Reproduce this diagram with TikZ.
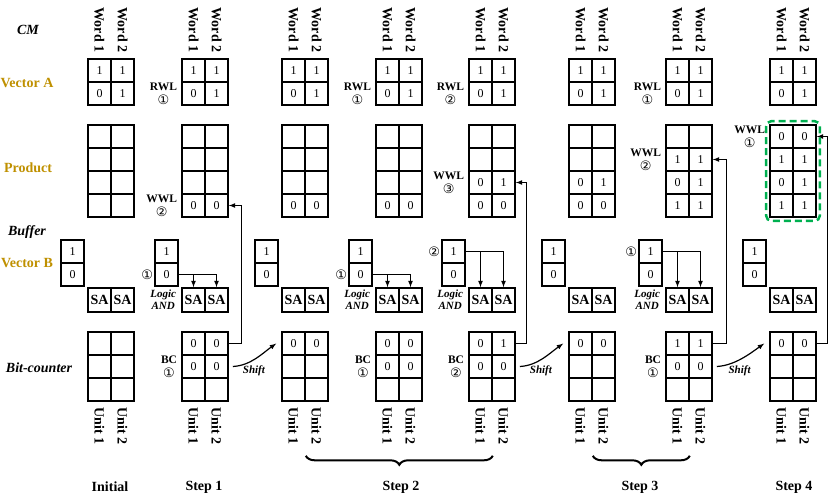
\documentclass[tikz,border=0pt]{standalone}
\usepackage{fontspec}
\setmainfont{Liberation Serif}
\newfontfamily\circfont{DejaVu Sans}
\usepackage{tikz}
\usetikzlibrary{decorations.pathreplacing}
\definecolor{gold}{HTML}{BF9000}
\definecolor{okgreen}{HTML}{00B050}

\begin{document}
\begin{tikzpicture}[x=1pt,y=-1pt,
    cell/.style={draw,line width=1.6pt,minimum width=23pt,minimum height=23pt,inner sep=0pt,font=\fontsize{12}{12}\selectfont},
    sacell/.style={cell,minimum height=24pt,font=\fontsize{14}{14}\selectfont\bfseries},
    val/.style={inner sep=0pt,font=\fontsize{12}{12}\selectfont},
    rowlbl/.style={font=\fontsize{14}{14}\selectfont\bfseries},
    seclbl/.style={rowlbl,text=gold},
    itlbl/.style={font=\fontsize{14}{14}\selectfont\bfseries\itshape},
    rotlbl/.style={rowlbl,rotate=-90},
    tag/.style={anchor=east,align=center,inner sep=1pt,font=\fontsize{11.5}{14}\selectfont\bfseries},
    circ/.style={anchor=east,inner sep=1pt,font=\circfont\fontsize{13}{13}\selectfont},
    note/.style={align=center,inner sep=0pt,font=\fontsize{11}{12}\selectfont\bfseries\itshape},
    link/.style={line width=1.2pt,-latex},
    brace/.style={decorate,decoration={brace,amplitude=9pt},line width=2pt},
    chosen/.style={draw=okgreen,line width=2.5pt,dash pattern=on 7pt off 4pt,rounded corners=5pt}]

    \useasboundingbox (0,0) rectangle (831,498);

    % Row names on the left
    \node[itlbl] (cm) at (28,30) {CM};
    \node[seclbl] (va) at (27,83) {Vector A};
    \node[seclbl] (pr) at (28,168) {Product};
    \node[itlbl] (bf) at (27,232) {Buffer};
    \node[seclbl] (vb) at (27,263) {Vector B};
    \node[itlbl] (bcl) at (39,368) {Bit-counter};

    % One column of arrays per state
    \foreach \i/\x in {0/88,1/182,2/282,3/376,4/469,5/569,6/666,7/770} {
        \node[rotlbl] (w\i-1) at (\x+11.5,30) {Word 1};
        \node[rotlbl] (w\i-2) at (\x+34.5,30) {Word 2};
        \node[rotlbl] (u\i-1) at (\x+11.5,426) {Unit 1};
        \node[rotlbl] (u\i-2) at (\x+34.5,426) {Unit 2};
        % vector A
        \node[cell] (a\i-1-1) at (\x+11.5,70.5) {1};
        \node[cell] (a\i-1-2) at (\x+34.5,70.5) {1};
        \node[cell] (a\i-2-1) at (\x+11.5,93.5) {0};
        \node[cell] (a\i-2-2) at (\x+34.5,93.5) {1};
        % product rows
        \foreach \r in {1,...,4} {
            \node[cell] (p\i-\r-1) at (\x+11.5,113.5+23*\r) {};
            \node[cell] (p\i-\r-2) at (\x+34.5,113.5+23*\r) {};
        }
        % vector B and sense amps
        \node[cell] (b\i-1) at (\x-15.5,251.5) {1};
        \node[cell] (b\i-2) at (\x-15.5,274.5) {0};
        \node[sacell] (s\i-1) at (\x+11.5,300) {SA};
        \node[sacell] (s\i-2) at (\x+34.5,300) {SA};
        % bit-counter rows
        \foreach \r in {1,2,3} {
            \node[cell] (c\i-\r-1) at (\x+11.5,320.5+23*\r) {};
            \node[cell] (c\i-\r-2) at (\x+34.5,320.5+23*\r) {};
        }
    }

    % Stored bits
    \foreach \n/\t in {p1-4-1/0,p1-4-2/0,p2-4-1/0,p2-4-2/0,p3-4-1/0,p3-4-2/0,
        p4-3-1/0,p4-3-2/1,p4-4-1/0,p4-4-2/0,p5-3-1/0,p5-3-2/1,p5-4-1/0,p5-4-2/0,
        p6-2-1/1,p6-2-2/1,p6-3-1/0,p6-3-2/1,p6-4-1/1,p6-4-2/1,
        p7-1-1/0,p7-1-2/0,p7-2-1/1,p7-2-2/1,p7-3-1/0,p7-3-2/1,p7-4-1/1,p7-4-2/1,
        c1-1-1/0,c1-1-2/0,c1-2-1/0,c1-2-2/0,c2-1-1/0,c2-1-2/0,
        c3-1-1/0,c3-1-2/0,c3-2-1/0,c3-2-2/0,c4-1-1/0,c4-1-2/1,c4-2-1/0,c4-2-2/0,
        c5-1-1/0,c5-1-2/0,c6-1-1/1,c6-1-2/1,c6-2-1/0,c6-2-2/0,c7-1-1/0,c7-1-2/0}
        \node[val] (v\n) at (\n) {\t};

    % Word line and counter tags
    \node[tag] (rwl1) at ([xshift=-3pt]a1-2-1.west) {RWL\\{\circfont\mdseries\fontsize{13}{13}\selectfont ①}};
    \node[tag] (rwl3) at ([xshift=-3pt]a3-2-1.west) {RWL\\{\circfont\mdseries\fontsize{13}{13}\selectfont ①}};
    \node[tag] (rwl4) at ([xshift=-3pt]a4-2-1.west) {RWL\\{\circfont\mdseries\fontsize{13}{13}\selectfont ②}};
    \node[tag] (rwl6) at ([xshift=-3pt]a6-2-1.west) {RWL\\{\circfont\mdseries\fontsize{13}{13}\selectfont ①}};
    \node[tag] (wwl1) at ([xshift=-3pt]p1-4-1.west) {WWL\\{\circfont\mdseries\fontsize{13}{13}\selectfont ②}};
    \node[tag] (wwl4) at ([xshift=-3pt]p4-3-1.west) {WWL\\{\circfont\mdseries\fontsize{13}{13}\selectfont ③}};
    \node[tag] (wwl6) at ([xshift=-3pt]p6-2-1.west) {WWL\\{\circfont\mdseries\fontsize{13}{13}\selectfont ②}};
    \node[tag] (wwl7) at ([xshift=-3pt]p7-1-1.west) {WWL\\{\circfont\mdseries\fontsize{13}{13}\selectfont ①}};
    \node[tag] (bc1) at ([xshift=-3pt]c1-2-1.west) {BC\\{\circfont\mdseries\fontsize{13}{13}\selectfont ①}};
    \node[tag] (bc3) at ([xshift=-3pt]c3-2-1.west) {BC\\{\circfont\mdseries\fontsize{13}{13}\selectfont ①}};
    \node[tag] (bc4) at ([xshift=-3pt]c4-2-1.west) {BC\\{\circfont\mdseries\fontsize{13}{13}\selectfont ②}};
    \node[tag] (bc6) at ([xshift=-3pt]c6-2-1.west) {BC\\{\circfont\mdseries\fontsize{13}{13}\selectfont ①}};

    % Logic AND of the selected bit of B
    \foreach \i/\r/\k in {1/2/①,3/2/①,4/1/②,6/1/①} {
        \node[circ] (n\i) at (b\i-\r.west) {\k};
        \node[note] (and\i) at ([xshift=-18pt]s\i-1.west) {Logic\\AND};
        \draw[link] (b\i-\r.east) -| (s\i-2.north);
        \draw[link] (b\i-\r.east -| s\i-1.north) -- (s\i-1.north);
    }

    % Counter bits written back to the product
    \draw[link] (c1-1-2.east) -- ++(13,0) |- (p1-4-2.east);
    \draw[link] (c4-1-2.east) -- ++(11,0) |- (p4-3-2.east);
    \draw[link] (c6-1-2.east) -- ++(14,0) |- (p6-2-2.east);
    \draw[link] (c7-1-2.east) -- ++(11,0) |- (p7-1-2.east);

    % Shift of the counter
    \foreach \i/\j in {1/2,4/5,6/7}
        \draw[link] ([xshift=4pt]c\i-2-2.east) .. controls +(18,-1) and +(-14,10) .. ([xshift=-5pt]c\j-1-1.west)
            node[note,pos=0.45,below=5pt] (sh\i) {Shift};

    % Result
    \draw[chosen] ([xshift=-3pt,yshift=3pt]p7-1-1.north west) rectangle ([xshift=3pt,yshift=-3pt]p7-4-2.south east);

    % Steps
    \draw[brace] ([yshift=-54pt]c4-3-1.south east) -- ([yshift=-54pt]c2-3-1.south east);
    \draw[brace] ([yshift=-54pt]c6-3-1.south east) -- ([yshift=-54pt]c5-3-1.south east);
    \node[rowlbl] (st0) at (110,487) {Initial};
    \node[rowlbl] (st1) at (204,487) {Step 1};
    \node[rowlbl] (st2) at (401,487) {Step 2};
    \node[rowlbl] (st3) at (640,487) {Step 3};
    \node[rowlbl] (st4) at (794,487) {Step 4};

\end{tikzpicture}
\end{document}
